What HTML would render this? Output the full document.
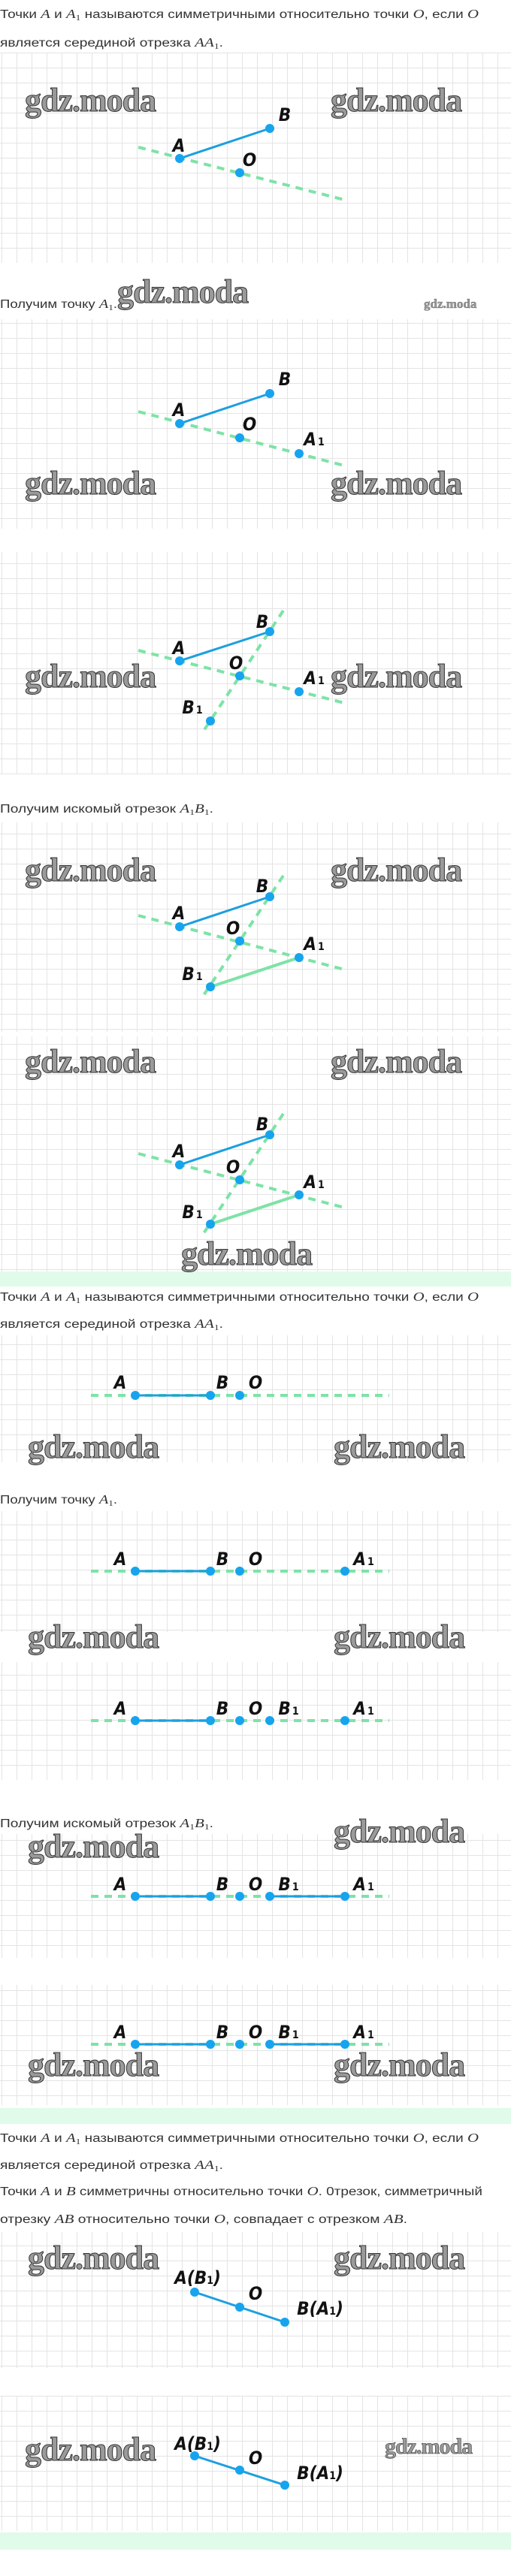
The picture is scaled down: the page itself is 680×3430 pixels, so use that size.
<!DOCTYPE html>
<html><head><meta charset="utf-8"><style>
html,body{margin:0;padding:0;background:#fff;}
svg{display:block;}
.t{font-family:"Liberation Sans",sans-serif;font-size:15.5px;fill:#333;}
.m{font-family:"Liberation Serif",serif;font-style:italic;font-size:17px;}
.s{font-family:"Liberation Serif",serif;font-size:11px;}
.w{font-family:"Liberation Serif",serif;font-weight:bold;font-size:44px;fill:#9a9a9a;stroke:#333;stroke-width:1;letter-spacing:-1px;}
.l{font-family:"DejaVu Sans Condensed","Liberation Sans Narrow","Liberation Sans",sans-serif;font-weight:bold;font-style:italic;font-size:24px;fill:#111;text-anchor:middle;}
.l tspan.sub{font-size:14px;font-style:normal;}
.d{stroke:#7de3a6;stroke-width:4;stroke-dasharray:10 8;fill:none;}
.gs{stroke:#7de3a6;stroke-width:4;}
.b{stroke:#1c9fe0;stroke-width:3;}
.p{fill:#17a4ee;}
</style></head><body>
<svg width="680" height="3430" viewBox="0 0 680 3430" xmlns="http://www.w3.org/2000/svg">
<defs>
<pattern id="g" x="2" y="10" width="20" height="20" patternUnits="userSpaceOnUse">
<path d="M0.5 0V20M0 0.5H20" stroke="#e4e4e4" stroke-width="1" fill="none"/>
</pattern>
</defs>
<rect x="0" y="70" width="680" height="280" fill="url(#g)"/>
<rect x="0" y="425" width="680" height="279" fill="url(#g)"/>
<rect x="0" y="735" width="680" height="296" fill="url(#g)"/>
<rect x="0" y="1095" width="680" height="279" fill="url(#g)"/>
<rect x="0" y="1380" width="680" height="313" fill="url(#g)"/>
<rect x="0" y="1778" width="680" height="169" fill="url(#g)"/>
<rect x="0" y="2012" width="680" height="161" fill="url(#g)"/>
<rect x="0" y="2213" width="680" height="157" fill="url(#g)"/>
<rect x="0" y="2442" width="680" height="165" fill="url(#g)"/>
<rect x="0" y="2643" width="680" height="160" fill="url(#g)"/>
<rect x="0" y="2972" width="680" height="181" fill="url(#g)"/>
<rect x="0" y="3190" width="680" height="180" fill="url(#g)"/>
<rect x="0" y="1693" width="680" height="20" fill="#e0fbe9"/>
<rect x="0" y="2807" width="680" height="21" fill="#e0fbe9"/>
<rect x="0" y="3372" width="680" height="23" fill="#e0fbe9"/>

<text class="t" x="0" y="24" textLength="637" lengthAdjust="spacingAndGlyphs">Точки <tspan class="m">A</tspan> и <tspan class="m">A</tspan><tspan class="s" dy="3">1</tspan><tspan dy="-3"> называются симметричными относительно точки </tspan><tspan class="m">O</tspan>, если <tspan class="m">O</tspan></text>
<text class="t" x="0" y="62" textLength="297" lengthAdjust="spacingAndGlyphs">является серединой отрезка <tspan class="m">AA</tspan><tspan class="s" dy="3">1</tspan><tspan dy="-3">.</tspan></text>
<text class="t" x="0" y="410" textLength="156" lengthAdjust="spacingAndGlyphs">Получим точку <tspan class="m">A</tspan><tspan class="s" dy="3">1</tspan><tspan dy="-3">.</tspan></text>
<text class="t" x="0" y="1082" textLength="284" lengthAdjust="spacingAndGlyphs">Получим искомый отрезок <tspan class="m">A</tspan><tspan class="s" dy="3">1</tspan><tspan class="m" dy="-3">B</tspan><tspan class="s" dy="3">1</tspan><tspan dy="-3">.</tspan></text>
<text class="t" x="0" y="1732" textLength="637" lengthAdjust="spacingAndGlyphs">Точки <tspan class="m">A</tspan> и <tspan class="m">A</tspan><tspan class="s" dy="3">1</tspan><tspan dy="-3"> называются симметричными относительно точки </tspan><tspan class="m">O</tspan>, если <tspan class="m">O</tspan></text>
<text class="t" x="0" y="1768" textLength="297" lengthAdjust="spacingAndGlyphs">является серединой отрезка <tspan class="m">AA</tspan><tspan class="s" dy="3">1</tspan><tspan dy="-3">.</tspan></text>
<text class="t" x="0" y="2002" textLength="156" lengthAdjust="spacingAndGlyphs">Получим точку <tspan class="m">A</tspan><tspan class="s" dy="3">1</tspan><tspan dy="-3">.</tspan></text>
<text class="t" x="0" y="2433" textLength="284" lengthAdjust="spacingAndGlyphs">Получим искомый отрезок <tspan class="m">A</tspan><tspan class="s" dy="3">1</tspan><tspan class="m" dy="-3">B</tspan><tspan class="s" dy="3">1</tspan><tspan dy="-3">.</tspan></text>
<text class="t" x="0" y="2852" textLength="637" lengthAdjust="spacingAndGlyphs">Точки <tspan class="m">A</tspan> и <tspan class="m">A</tspan><tspan class="s" dy="3">1</tspan><tspan dy="-3"> называются симметричными относительно точки </tspan><tspan class="m">O</tspan>, если <tspan class="m">O</tspan></text>
<text class="t" x="0" y="2888" textLength="297" lengthAdjust="spacingAndGlyphs">является серединой отрезка <tspan class="m">AA</tspan><tspan class="s" dy="3">1</tspan><tspan dy="-3">.</tspan></text>
<text class="t" x="0" y="2923" textLength="642" lengthAdjust="spacingAndGlyphs">Точки <tspan class="m">A</tspan> и <tspan class="m">B</tspan> симметричны относительно точки <tspan class="m">O</tspan>. 0трезок, симметричный</text>
<text class="t" x="0" y="2960" textLength="542" lengthAdjust="spacingAndGlyphs">отрезку <tspan class="m">AB</tspan> относительно точки <tspan class="m">O</tspan>, совпадает с отрезком <tspan class="m">AB</tspan>.</text>

<g class="w">
<text x="33" y="148">gdz.moda</text><text x="440" y="148">gdz.moda</text>
<text x="156" y="403">gdz.moda</text>
<text x="33" y="658">gdz.moda</text><text x="440" y="658">gdz.moda</text>
<text x="33" y="915">gdz.moda</text><text x="440" y="915">gdz.moda</text>
<text x="33" y="1173">gdz.moda</text><text x="440" y="1173">gdz.moda</text>
<text x="33" y="1428">gdz.moda</text><text x="440" y="1428">gdz.moda</text>
<text x="241" y="1684">gdz.moda</text>
<text x="37" y="1941">gdz.moda</text><text x="444" y="1941">gdz.moda</text>
<text x="37" y="2194">gdz.moda</text><text x="444" y="2194">gdz.moda</text>
<text x="444" y="2453">gdz.moda</text><text x="37" y="2473">gdz.moda</text>
<text x="37" y="2764">gdz.moda</text><text x="444" y="2764">gdz.moda</text>
<text x="37" y="3021">gdz.moda</text><text x="444" y="3021">gdz.moda</text>
<text x="33" y="3276">gdz.moda</text>
</g>
<text class="w" x="564" y="410" style="font-size:17px;stroke-width:0.3;letter-spacing:0">gdz.moda</text>
<text class="w" x="512" y="3267" style="font-size:30px;stroke-width:0.6;letter-spacing:-1px">gdz.moda</text>

<line class="d" x1="184" y1="196" x2="462" y2="267"/>
<line class="b" x1="239" y1="211" x2="359" y2="171"/>
<circle class="p" cx="239" cy="211" r="6"/><circle class="p" cx="359" cy="171" r="6"/><circle class="p" cx="319" cy="230" r="6"/>
<text class="l" x="238" y="202">A</text><text class="l" x="379" y="161">B</text><text class="l" x="332" y="221">O</text>

<line class="d" x1="184" y1="548" x2="462" y2="621"/>
<line class="b" x1="239" y1="564" x2="359" y2="524"/>
<circle class="p" cx="239" cy="564" r="6"/><circle class="p" cx="359" cy="524" r="6"/><circle class="p" cx="319" cy="583" r="6"/><circle class="p" cx="398" cy="604" r="6"/>
<text class="l" x="238" y="554">A</text><text class="l" x="379" y="513">B</text><text class="l" x="332" y="573">O</text><text class="l" x="418" y="593">A<tspan class="sub" dx="2">1</tspan></text>

<line class="d" x1="184" y1="866" x2="462" y2="937"/>
<line class="d" x1="377" y1="813" x2="269" y2="976"/>
<line class="b" x1="239" y1="880" x2="359" y2="841"/>
<circle class="p" cx="239" cy="880" r="6"/><circle class="p" cx="359" cy="841" r="6"/><circle class="p" cx="319" cy="900" r="6"/><circle class="p" cx="398" cy="921" r="6"/><circle class="p" cx="280" cy="960" r="6"/>
<text class="l" x="238" y="871">A</text><text class="l" x="349" y="836">B</text><text class="l" x="314" y="891">O</text><text class="l" x="418" y="911">A<tspan class="sub" dx="2">1</tspan></text><text class="l" x="256" y="950">B<tspan class="sub" dx="2">1</tspan></text>

<line class="d" x1="184" y1="1219" x2="462" y2="1292"/>
<line class="d" x1="377" y1="1166" x2="269" y2="1328"/>
<line class="gs" x1="280" y1="1314" x2="398" y2="1275"/>
<line class="b" x1="239" y1="1234" x2="359" y2="1194"/>
<circle class="p" cx="239" cy="1234" r="6"/><circle class="p" cx="359" cy="1194" r="6"/><circle class="p" cx="319" cy="1253" r="6"/><circle class="p" cx="398" cy="1275" r="6"/><circle class="p" cx="280" cy="1314" r="6"/>
<text class="l" x="238" y="1224">A</text><text class="l" x="349" y="1188">B</text><text class="l" x="310" y="1244">O</text><text class="l" x="418" y="1265">A<tspan class="sub" dx="2">1</tspan></text><text class="l" x="256" y="1305">B<tspan class="sub" dx="2">1</tspan></text>

<line class="d" x1="184" y1="1536" x2="462" y2="1609"/>
<line class="d" x1="377" y1="1483" x2="269" y2="1645"/>
<line class="gs" x1="280" y1="1630" x2="398" y2="1591"/>
<line class="b" x1="239" y1="1551" x2="359" y2="1511"/>
<circle class="p" cx="239" cy="1551" r="6"/><circle class="p" cx="359" cy="1511" r="6"/><circle class="p" cx="319" cy="1571" r="6"/><circle class="p" cx="398" cy="1591" r="6"/><circle class="p" cx="280" cy="1630" r="6"/>
<text class="l" x="238" y="1541">A</text><text class="l" x="349" y="1505">B</text><text class="l" x="310" y="1562">O</text><text class="l" x="418" y="1582">A<tspan class="sub" dx="2">1</tspan></text><text class="l" x="256" y="1622">B<tspan class="sub" dx="2">1</tspan></text>

<line class="d" x1="121" y1="1858" x2="518" y2="1858"/>
<line class="b" x1="180" y1="1858" x2="280" y2="1858"/>
<circle class="p" cx="180" cy="1858" r="6"/><circle class="p" cx="280" cy="1858" r="6"/><circle class="p" cx="319" cy="1858" r="6"/>
<text class="l" x="160" y="1849">A</text><text class="l" x="296" y="1849">B</text><text class="l" x="340" y="1849">O</text>

<line class="d" x1="121" y1="2092" x2="518" y2="2092"/>
<line class="b" x1="180" y1="2092" x2="280" y2="2092"/>
<circle class="p" cx="180" cy="2092" r="6"/><circle class="p" cx="280" cy="2092" r="6"/><circle class="p" cx="319" cy="2092" r="6"/><circle class="p" cx="459" cy="2092" r="6"/>
<text class="l" x="160" y="2084">A</text><text class="l" x="296" y="2084">B</text><text class="l" x="340" y="2084">O</text><text class="l" x="484" y="2084">A<tspan class="sub" dx="2">1</tspan></text>

<line class="d" x1="121" y1="2291" x2="518" y2="2291"/>
<line class="b" x1="180" y1="2291" x2="280" y2="2291"/>
<circle class="p" cx="180" cy="2291" r="6"/><circle class="p" cx="280" cy="2291" r="6"/><circle class="p" cx="319" cy="2291" r="6"/><circle class="p" cx="359" cy="2291" r="6"/><circle class="p" cx="459" cy="2291" r="6"/>
<text class="l" x="160" y="2283">A</text><text class="l" x="296" y="2283">B</text><text class="l" x="340" y="2283">O</text><text class="l" x="384" y="2283">B<tspan class="sub" dx="2">1</tspan></text><text class="l" x="484" y="2283">A<tspan class="sub" dx="2">1</tspan></text>

<line class="d" x1="121" y1="2525" x2="518" y2="2525"/>
<line class="b" x1="180" y1="2525" x2="280" y2="2525"/>
<line class="b" x1="359" y1="2525" x2="459" y2="2525"/>
<circle class="p" cx="180" cy="2525" r="6"/><circle class="p" cx="280" cy="2525" r="6"/><circle class="p" cx="319" cy="2525" r="6"/><circle class="p" cx="359" cy="2525" r="6"/><circle class="p" cx="459" cy="2525" r="6"/>
<text class="l" x="160" y="2517">A</text><text class="l" x="296" y="2517">B</text><text class="l" x="340" y="2517">O</text><text class="l" x="384" y="2517">B<tspan class="sub" dx="2">1</tspan></text><text class="l" x="484" y="2517">A<tspan class="sub" dx="2">1</tspan></text>

<line class="d" x1="121" y1="2722" x2="518" y2="2722"/>
<line class="b" x1="180" y1="2722" x2="280" y2="2722"/>
<line class="b" x1="359" y1="2722" x2="459" y2="2722"/>
<circle class="p" cx="180" cy="2722" r="6"/><circle class="p" cx="280" cy="2722" r="6"/><circle class="p" cx="319" cy="2722" r="6"/><circle class="p" cx="359" cy="2722" r="6"/><circle class="p" cx="459" cy="2722" r="6"/>
<text class="l" x="160" y="2714">A</text><text class="l" x="296" y="2714">B</text><text class="l" x="340" y="2714">O</text><text class="l" x="384" y="2714">B<tspan class="sub" dx="2">1</tspan></text><text class="l" x="484" y="2714">A<tspan class="sub" dx="2">1</tspan></text>

<line class="b" x1="259" y1="3052" x2="379" y2="3092"/>
<circle class="p" cx="259" cy="3052" r="6"/><circle class="p" cx="319" cy="3072" r="6"/><circle class="p" cx="379" cy="3092" r="6"/>
<text class="l" x="263" y="3041">A(B<tspan class="sub">1</tspan>)</text><text class="l" x="340" y="3062">O</text><text class="l" x="426" y="3082">B(A<tspan class="sub">1</tspan>)</text>

<line class="b" x1="259" y1="3270" x2="379" y2="3309"/>
<circle class="p" cx="259" cy="3270" r="6"/><circle class="p" cx="319" cy="3289" r="6"/><circle class="p" cx="379" cy="3309" r="6"/>
<text class="l" x="263" y="3262">A(B<tspan class="sub">1</tspan>)</text><text class="l" x="340" y="3281">O</text><text class="l" x="426" y="3301">B(A<tspan class="sub">1</tspan>)</text>
</svg>
</body></html>
